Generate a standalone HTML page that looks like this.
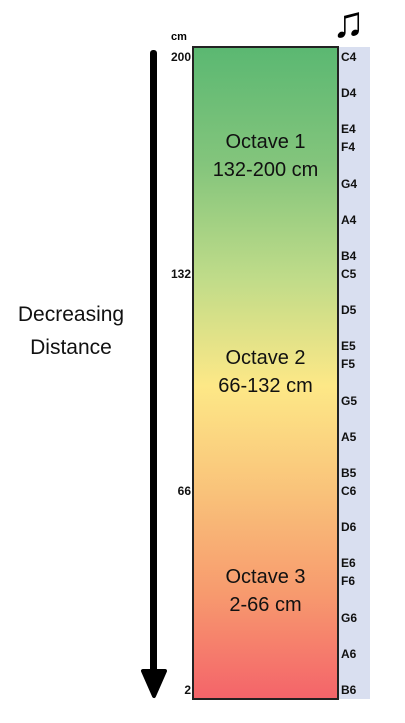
<!DOCTYPE html>
<html><head><meta charset="utf-8"><style>
html,body{margin:0;padding:0;background:#fff;width:405px;height:723px;overflow:hidden;font-family:"Liberation Sans",sans-serif;}
.abs{position:absolute;}
.note{position:absolute;left:341px;font-size:12px;font-weight:bold;color:#111;line-height:12px;}
.tick{position:absolute;font-size:12px;font-weight:bold;color:#111;text-align:right;width:30px;left:161px;line-height:12px;}
.oct{position:absolute;left:193px;width:145px;text-align:center;font-size:20px;color:#111;line-height:28px;}
</style></head><body>
<div id="root" style="position:relative;width:405px;height:723px;">
  <div class="abs" style="left:338px;top:47px;width:32px;height:652px;background:#d9dff0;"></div>
  <div class="abs" style="left:192px;top:46px;width:143px;height:650px;border:2px solid #222;background:linear-gradient(to bottom,#5bb872 0%,#84c57c 18%,#bedb89 35%,#fde887 52%,#f9c37a 68%,#f79a6e 84%,#f4646a 100%);"></div>
  <div class="abs" style="left:332px;top:-2px;font-size:44px;line-height:50px;color:#000;font-weight:bold;">♫</div>
  <div class="abs" style="left:171px;top:31px;font-size:11px;font-weight:bold;">cm</div>
  <div class="abs" style="left:150px;top:50px;width:7px;height:630px;background:#000;border-radius:3px;"></div>
  <svg class="abs" style="left:140px;top:668px;" width="28" height="32"><polygon points="3,3 25,3 14,28" fill="#000" stroke="#000" stroke-width="4" stroke-linejoin="round"/></svg>
  <div class="abs" style="left:0;top:298px;width:142px;text-align:center;font-size:21px;line-height:33px;color:#111;">Decreasing<br>Distance</div>
  <div class="oct" style="top:128px;">Octave 1<br>132-200 cm</div>
  <div class="oct" style="top:344px;">Octave 2<br>66-132 cm</div>
  <div class="oct" style="top:563px;">Octave 3<br>2-66 cm</div>
</div>
<script>
const notes = ["C4","D4","E4","F4","G4","A4","B4","C5","D5","E5","F5","G5","A5","B5","C6","D6","E6","F6","G6","A6","B6"];
const semitones = [0,2,4,5,7,9,11,12,14,16,17,19,21,23,24,26,28,29,31,33,35];
const ticks = [200,132,66,2];
const tickLabels = ["200","132","66","2"];
const cmAnchors = [200,132,66,2];
const semiAnchors = [0,12,24,35];
const root = document.getElementById('root');
function yNote(s){ return 57 + s * (633/35); }
function yCm(v){
  for(let i=0;i<cmAnchors.length-1;i++){
    const a=cmAnchors[i], b=cmAnchors[i+1];
    if((v<=a && v>=b) || i===cmAnchors.length-2 || v>a){
      const t=(a-v)/(a-b);
      return yNote(semiAnchors[i]+t*(semiAnchors[i+1]-semiAnchors[i]));
    }
  }
}
notes.forEach((n,i)=>{
  const d = document.createElement('div');
  d.className='note';
  
  
  d.textContent=n;
  d.style.top=(yNote(semitones[i])-6)+'px';
  root.appendChild(d);
});
ticks.forEach((t,i)=>{
  const d = document.createElement('div');
  d.className='tick';
  
  
  d.textContent=tickLabels[i];
  d.style.top=(yCm(t)-6)+'px';
  root.appendChild(d);
});
</script>
</body></html>
